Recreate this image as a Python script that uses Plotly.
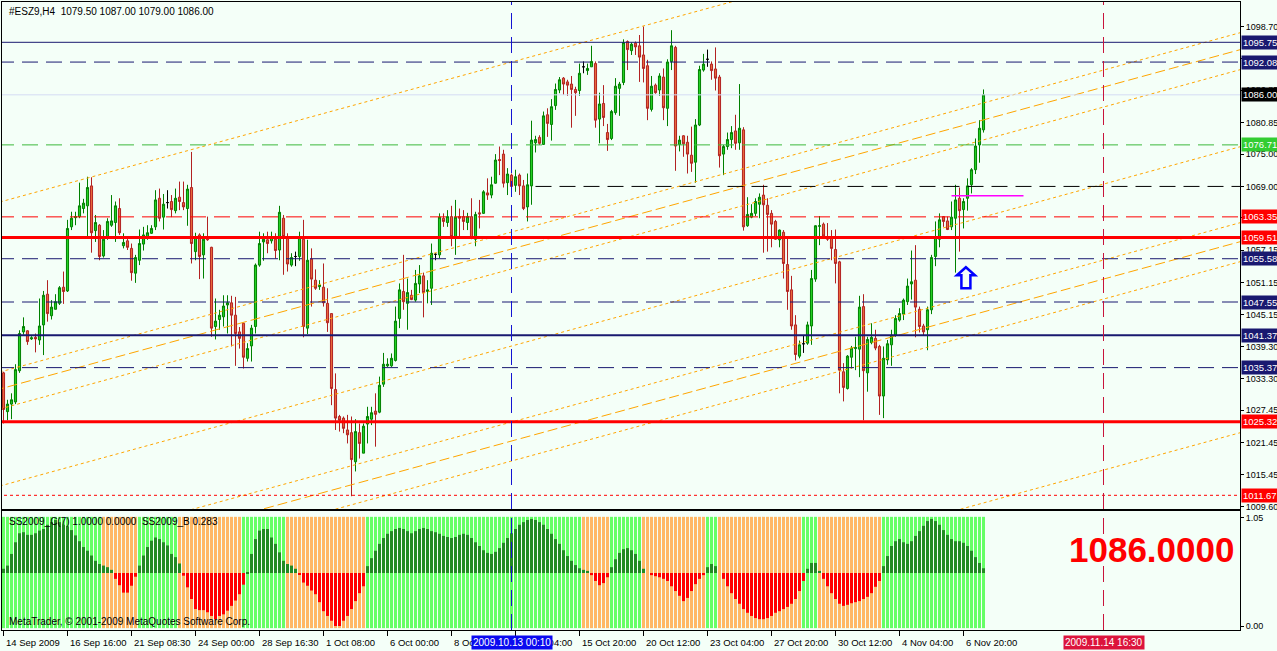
import plotly.graph_objects as go

# ---------------- data ----------------
header_text = "#ESZ9,H4\u00a0\u00a01079.50 1087.00 1079.00 1086.00"

opens = [1034.4,1027.2,1028.6,1029.0,1034.8,1042.0,1042.2,1040.7,1041.0,1040.5,
1043.3,1049.0,1045.0,1046.2,1047.3,1050.3,1049.6,1061.5,1063.2,1063.4,
1064.9,1065.4,1069.1,1060.8,1061.8,1056.1,1059.5,1061.8,1062.3,1064.9,
1058.0,1058.9,1057.5,1052.9,1055.3,1058.3,1059.5,1060.3,1061.5,1066.8,
1063.3,1066.0,1066.2,1064.5,1067.0,1066.0,1064.9,1068.8,1056.9,1060.0,
1056.3,1059.7,1057.7,1043.0,1044.3,1044.8,1047.0,1047.4,1045.1,1042.0,
1043.6,1037.1,1039.4,1043.0,1054.4,1058.7,1059.1,1058.9,1059.2,1057.2,
1063.1,1059.7,1054.4,1056.0,1056.0,1059.2,1042.7,1055.5,1051.6,1050.4,
1050.3,1047.3,1045.4,1031.3,1026.3,1026.0,1023.8,1023.3,1017.9,1023.3,
1019.5,1024.9,1025.8,1027.3,1027.1,1032.3,1035.7,1035.7,1036.7,1044.5,
1049.5,1047.3,1048.8,1047.9,1050.9,1052.4,1049.5,1050.1,1056.4,1056.3,
1063.1,1062.3,1063.4,1059.7,1063.4,1063.4,1062.3,1063.4,1059.2,1064.1,
1064.0,1067.8,1067.4,1069.6,1074.0,1075.0,1069.7,1071.1,1069.2,1071.1,
1069.1,1065.2,1069.1,1077.1,1078.1,1076.8,1082.3,1080.5,1084.0,1086.9,
1089.1,1088.4,1088.0,1087.0,1086.8,1091.2,1090.5,1091.2,1091.8,1081.5,
1084.4,1079.0,1077.9,1082.7,1087.2,1088.3,1095.9,1094.2,1095.6,1095.1,
1093.4,1091.4,1083.3,1087.8,1086.9,1089.3,1083.5,1092.2,1094.8,1076.8,
1078.4,1077.2,1074.8,1073.5,1080.4,1090.6,1092.6,1091.7,1090.8,1089.3,
1075.0,1076.4,1077.7,1079.3,1077.1,1079.5,1061.7,1063.3,1064.0,1065.7,
1067.4,1065.5,1064.0,1062.5,1059.1,1060.5,1054.5,1049.8,1043.3,1037.5,
1039.8,1039.9,1043.1,1051.8,1061.6,1062.0,1059.7,1059.7,1057.3,1055.0,
1034.6,1031.5,1037.3,1038.9,1038.8,1046.7,1034.4,1040.0,1040.8,1039.3,
1030.1,1036.8,1039.6,1041.4,1044.2,1045.3,1047.6,1050.9,1051.6,1046.2,
1043.1,1042.4,1046.1,1056.0,1059.2,1063.4,1062.6,1061.5,1063.1,1066.8,
1064.7,1066.8,1069.3,1072.1,1076.7,1079.5]

highs = [1034.6,1029.4,1030.6,1036.0,1042.3,1044.7,1042.3,1041.2,1041.7,1048.2,
1049.6,1051.6,1047.9,1049.0,1050.5,1053.2,1062.8,1064.3,1064.3,1069.7,
1066.7,1070.8,1070.7,1063.7,1062.0,1060.9,1063.1,1067.4,1066.2,1066.8,
1060.3,1059.4,1058.4,1056.3,1061.0,1061.5,1061.8,1061.8,1068.3,1068.6,
1067.6,1068.3,1067.4,1068.6,1069.9,1069.9,1069.3,1075.4,1060.4,1060.3,
1060.3,1063.4,1057.8,1048.2,1046.1,1048.8,1048.8,1048.7,1048.5,1042.9,
1043.7,1039.9,1043.3,1054.7,1060.6,1060.3,1060.6,1060.6,1060.3,1065.4,
1063.7,1060.3,1056.6,1056.9,1060.6,1062.8,1059.1,1057.5,1053.6,1051.6,
1054.7,1050.1,1045.4,1034.3,1026.6,1026.3,1026.6,1026.3,1025.8,1025.0,
1025.0,1028.1,1028.1,1030.6,1033.7,1038.1,1037.1,1038.0,1046.7,1051.0,
1056.3,1051.9,1049.8,1053.5,1054.4,1053.0,1051.6,1058.4,1056.6,1064.0,
1064.0,1064.6,1065.4,1066.5,1064.9,1064.6,1064.1,1066.8,1064.3,1066.5,
1068.3,1070.5,1070.8,1075.0,1076.4,1075.8,1072.4,1071.4,1072.1,1071.4,
1070.2,1071.4,1081.2,1078.4,1078.5,1082.9,1083.5,1085.2,1088.1,1089.3,
1089.3,1088.8,1089.5,1087.5,1091.8,1092.2,1091.8,1095.1,1092.2,1086.4,
1087.8,1080.6,1083.2,1089.1,1088.4,1096.3,1096.1,1095.7,1095.9,1097.1,
1098.7,1092.5,1089.5,1088.1,1090.0,1090.9,1092.6,1098.0,1095.1,1078.4,
1078.5,1078.4,1080.1,1081.5,1091.4,1093.6,1094.4,1092.2,1094.8,1089.7,
1076.7,1079.0,1080.2,1082.3,1088.0,1080.0,1067.0,1065.7,1066.8,1067.7,
1069.3,1066.8,1064.6,1062.8,1061.0,1060.9,1059.7,1052.4,1045.1,1040.4,
1041.4,1043.9,1053.5,1061.8,1063.5,1062.3,1062.2,1060.9,1061.0,1055.2,
1036.2,1037.7,1039.4,1041.1,1048.7,1049.0,1041.1,1043.6,1042.4,1039.6,
1039.3,1040.5,1042.4,1045.1,1046.4,1048.2,1051.9,1057.1,1058.1,1046.7,
1043.5,1046.7,1056.3,1062.5,1064.0,1063.5,1063.4,1066.2,1069.3,1068.8,
1066.8,1070.5,1072.4,1077.9,1081.3,1087.0]

lows = [1025.0,1025.6,1025.8,1028.6,1034.4,1041.5,1039.6,1040.5,1038.2,1039.6,
1037.7,1043.9,1044.3,1046.2,1047.0,1047.2,1049.4,1060.9,1061.8,1063.1,
1064.0,1059.7,1056.7,1058.7,1055.3,1055.8,1059.1,1061.5,1058.7,1060.0,
1057.5,1057.2,1051.5,1051.1,1054.4,1057.1,1059.1,1060.2,1060.9,1062.5,
1061.0,1064.9,1063.3,1064.0,1064.6,1064.6,1061.7,1054.7,1055.3,1051.8,
1051.9,1058.9,1041.1,1040.6,1042.4,1043.0,1041.7,1039.3,1035.7,1038.9,
1035.2,1036.5,1036.5,1041.7,1054.1,1055.2,1056.6,1058.4,1055.6,1055.3,
1052.6,1053.2,1054.1,1054.2,1055.2,1041.0,1041.6,1046.7,1049.8,1049.8,
1046.7,1042.0,1028.4,1023.8,1023.5,1023.2,1021.3,1011.5,1016.1,1018.5,
1019.5,1021.3,1024.7,1020.7,1026.9,1031.8,1035.5,1035.5,1036.5,1042.7,
1046.1,1042.4,1047.9,1047.6,1049.2,1044.7,1047.3,1047.0,1055.3,1055.7,
1061.5,1061.5,1057.9,1056.3,1059.7,1060.9,1060.9,1059.2,1057.9,1061.2,
1063.9,1066.5,1066.8,1069.5,1071.1,1068.8,1067.4,1067.4,1068.0,1067.4,
1064.6,1062.5,1065.6,1075.3,1076.7,1076.7,1078.2,1077.5,1083.2,1086.3,
1086.0,1085.8,1079.9,1082.1,1085.8,1090.0,1089.7,1091.2,1079.9,1077.0,
1080.2,1075.6,1077.6,1082.3,1082.1,1087.8,1090.6,1093.4,1093.4,1088.4,
1088.3,1081.3,1082.9,1086.2,1085.8,1081.3,1080.2,1090.6,1071.9,1075.5,
1074.5,1071.4,1071.7,1069.7,1080.2,1090.3,1091.2,1088.8,1086.8,1072.5,
1071.1,1075.8,1076.1,1075.8,1075.8,1060.8,1061.5,1063.1,1063.5,1063.1,
1056.7,1056.9,1057.7,1059.1,1057.7,1051.9,1046.1,1042.4,1036.7,1037.1,
1038.1,1039.6,1039.6,1051.3,1058.1,1059.4,1058.9,1055.3,1051.0,1030.6,
1029.1,1031.3,1035.2,1034.9,1033.6,1025.6,1030.9,1039.7,1038.6,1026.6,
1026.0,1035.9,1035.7,1041.1,1043.9,1044.2,1047.0,1048.0,1041.0,1041.9,
1041.4,1038.6,1045.3,1054.2,1057.7,1061.5,1060.9,1060.9,1053.0,1056.9,
1061.2,1064.5,1067.7,1071.3,1073.4,1079.0]

closes = [1027.6,1028.6,1029.4,1035.0,1041.7,1043.0,1040.2,1040.9,1040.7,1043.1,
1048.8,1045.4,1046.6,1047.6,1050.2,1049.5,1061.2,1063.1,1063.4,1065.4,
1065.9,1068.8,1060.4,1062.3,1056.0,1059.2,1062.5,1062.6,1065.4,1060.4,
1058.6,1057.7,1053.0,1055.8,1058.4,1060.0,1060.4,1061.2,1066.5,1063.1,
1065.7,1066.0,1064.7,1066.8,1066.2,1065.2,1068.5,1058.4,1059.7,1056.0,
1059.2,1059.1,1042.7,1044.0,1045.1,1046.8,1047.4,1045.1,1041.7,1040.8,
1037.3,1038.9,1042.7,1054.4,1058.4,1059.2,1058.4,1059.7,1057.1,1064.2,
1059.7,1054.6,1055.8,1056.0,1059.5,1043.0,1055.3,1051.8,1050.1,1050.7,
1047.4,1043.7,1031.5,1026.0,1025.6,1024.1,1022.9,1018.3,1023.5,1021.3,
1024.5,1026.3,1027.0,1026.7,1032.1,1036.0,1036.0,1037.1,1044.0,1049.8,
1047.6,1049.3,1048.0,1051.0,1052.4,1049.3,1049.8,1056.6,1056.4,1063.3,
1062.5,1063.4,1059.7,1063.3,1063.1,1062.5,1063.4,1059.4,1063.8,1063.9,
1068.0,1067.4,1069.3,1073.9,1073.8,1069.6,1071.3,1069.0,1070.8,1069.1,
1064.9,1069.3,1077.6,1077.7,1077.0,1082.1,1080.7,1083.8,1087.0,1088.8,
1088.0,1087.8,1087.0,1086.4,1090.0,1091.2,1090.9,1092.2,1081.3,1084.3,
1081.8,1077.7,1082.9,1087.6,1088.0,1095.7,1094.4,1095.4,1094.9,1093.0,
1090.9,1083.5,1087.6,1086.4,1089.5,1083.6,1092.1,1095.1,1076.5,1077.6,
1076.9,1075.0,1073.3,1080.4,1090.7,1091.7,1092.6,1090.5,1089.1,1074.7,
1076.4,1077.7,1079.0,1077.0,1079.8,1061.5,1063.8,1064.0,1066.2,1067.0,
1065.6,1063.8,1062.0,1059.2,1060.9,1054.7,1049.5,1043.1,1037.8,1039.6,
1039.8,1043.3,1051.9,1061.7,1061.7,1059.8,1059.2,1057.5,1054.7,1034.9,
1031.7,1037.5,1039.0,1039.1,1046.6,1034.8,1040.6,1041.0,1039.0,1030.1,
1037.1,1039.8,1041.4,1044.5,1045.4,1047.9,1050.5,1051.3,1046.6,1043.0,
1042.0,1046.1,1055.8,1059.6,1062.8,1062.5,1061.0,1063.3,1066.5,1064.5,
1066.2,1069.1,1072.1,1076.5,1079.8,1086.0]

doji_bars = [41, 73, 108, 145, 176, 200]

# oscillator histogram (SS2009_C) per bar
hist = [0.08,0.14,0.36,0.58,0.75,0.77,0.72,0.72,0.75,0.80,
0.83,0.91,0.96,1.00,0.96,0.91,0.88,0.81,0.71,0.60,
0.49,0.42,0.33,0.23,0.17,0.14,0.11,0.06,-0.11,-0.23,
-0.37,-0.37,-0.24,-0.07,0.14,0.33,0.49,0.61,0.67,0.64,
0.58,0.52,0.36,0.30,0.18,-0.05,-0.27,-0.49,-0.68,-0.70,
-0.70,-0.74,-0.81,-0.87,-0.81,-0.78,-0.71,-0.62,-0.52,-0.40,
-0.22,0.01,0.36,0.64,0.80,0.83,0.83,0.67,0.55,0.39,
0.23,0.17,0.14,0.08,-0.03,-0.18,-0.24,-0.33,-0.40,-0.55,
-0.72,-0.81,-0.90,-1.00,-1.00,-0.90,-0.81,-0.68,-0.53,-0.38,
-0.25,0.13,0.28,0.42,0.55,0.66,0.74,0.79,0.83,0.85,
0.83,0.79,0.75,0.79,0.83,0.85,0.83,0.79,0.77,0.74,
0.70,0.68,0.66,0.68,0.72,0.74,0.72,0.66,0.58,0.51,
0.43,0.38,0.36,0.40,0.47,0.57,0.66,0.75,0.83,0.91,
0.96,1.00,1.02,1.00,0.96,0.91,0.83,0.74,0.64,0.55,
0.43,0.32,0.23,0.15,0.09,0.06,0.04,-0.04,-0.15,-0.23,
-0.19,-0.08,0.11,0.26,0.38,0.45,0.47,0.43,0.36,0.23,
0.08,0.00,-0.04,-0.06,-0.08,-0.11,-0.15,-0.25,-0.34,-0.43,
-0.53,-0.47,-0.34,-0.21,-0.11,-0.04,0.11,0.17,0.13,0.00,
-0.11,-0.25,-0.38,-0.49,-0.58,-0.68,-0.75,-0.81,-0.85,-0.87,
-0.87,-0.85,-0.81,-0.75,-0.72,-0.68,-0.64,-0.58,-0.49,-0.34,
-0.15,0.08,0.19,0.19,0.04,-0.11,-0.25,-0.38,-0.49,-0.58,
-0.62,-0.60,-0.57,-0.55,-0.53,-0.49,-0.45,-0.38,-0.26,-0.15,
0.13,0.32,0.51,0.60,0.64,0.58,0.55,0.60,0.70,0.79,
0.89,0.98,1.02,0.98,0.91,0.81,0.72,0.64,0.60,0.60,
0.57,0.51,0.42,0.30,0.19,0.09]

# SS2009_B state runs (G = bullish band, O = bearish band), bar counts
state_runs = [("G", 25), ("O", 9), ("G", 10), ("O", 16), ("G", 11), ("O", 20),
              ("G", 54), ("O", 7), ("G", 8), ("O", 16), ("G", 3), ("O", 21),
              ("G", 4), ("O", 16), ("G", 26)]

time_tick_bars = [0, 16, 32, 48, 64, 80, 96, 112, 128, 144, 160, 176, 192, 208, 224, 240]
time_tick_labels = ["14 Sep 2009", "16 Sep 16:00", "21 Sep 08:30", "24 Sep 00:00",
                    "28 Sep 16:30", "1 Oct 08:00", "6 Oct 00:00", "8 Oct 16:00",
                    "13 Oct 04:00", "15 Oct 20:00", "20 Oct 12:00", "23 Oct 04:00",
                    "27 Oct 20:00", "30 Oct 12:00", "4 Nov 04:00", "6 Nov 20:00"]

price_ticks = [1098.70, 1092.70, 1086.85, 1080.85, 1075.00, 1069.00, 1063.15, 1057.15,
               1051.15, 1045.15, 1039.30, 1033.30, 1027.45, 1021.45, 1015.45, 1009.60]

# horizontal levels: price, colour, dash, width, first bar, label background (None = no label)
level_prices = [1095.75, 1092.08, 1086.00, 1076.71, 1069.00, 1063.35, 1059.51,
                1055.58, 1047.55, 1041.37, 1035.37, 1025.32, 1011.67]
level_colors = ["#191970", "#191970", "#D4DCF4", "#3CB83C", "#000000", "#FF0000", "#FF0000",
                "#191970", "#191970", "#191970", "#191970", "#FF0000", "#FF0000"]
level_dash = ["solid", "16px,8px", "solid", "16px,8px", "16px,8px", "16px,8px", "solid",
              "16px,8px", "16px,8px", "solid", "16px,8px", "solid", "3px,3px"]
level_width = [1, 1, 1, 1, 1, 1, 3, 1, 1, 2, 1, 3, 1]
level_start = [None, None, None, None, 133, None, None, None, None, None, None, None, None]
level_label_bg = ["#191970", "#191970", "#000000", "#32CD32", None, "#FF0000", "#FF0000",
                  "#191970", "#191970", "#191970", "#191970", "#FF0000", "#FF0000"]

# parallel channel rays: price at bar 0, common slope (points per bar)
channel_base = [1066.29, 1034.74, 1031.59, 1027.88, 1013.58, 999.48, 995.95, 992.24, 960.50]
channel_dash = ["3px,3px", "3px,3px", "10px,4px", "3px,3px", "3px,3px", "3px,3px",
                "10px,4px", "3px,3px", "3px,3px"]
channel_slope = 0.2031

marker_level_price = 1067.27
marker_level_bars = [237, 255]
arrow_bar = 240.6
arrow_tip_price = 1054.0

vline_bars = [127, 275]
vline_colors = ["#1414D2", "#C8143C"]
vline_labels = ["2009.10.13 00:10", "2009.11.14 16:30"]
vline_label_bg = ["#0A0AF0", "#DC143C"]

osc_title = "SS2009_C(7) 1.0000 0.0000\u00a0\u00a0SS2009_B 0.283"
copyright_text = "MetaTrader, \u00a9 2001-2009 MetaQuotes Software Corp."
big_price_text = "1086.0000"

# ---------------- layout geometry ----------------
W, H = 1277, 651
ML, MR, MT, MB = 2, 37, 2, 21
plot_w = W - ML - MR
plot_h = H - MT - MB
main_bottom_px = 509
osc_top_px = 511
main_dom = [(H - MB - main_bottom_px) / plot_h, 1.0]
osc_dom = [0.0, (H - MB - osc_top_px) / plot_h]
x_range = [-0.375, 309.125]
y_range = [1009.13, 1103.23]
osc_range = [-1.075, 1.17]

BG = "#F4FFF8"
FONT = "Liberation Sans, Arial, sans-serif"
FS = 9.5

n = len(opens)
idx = list(range(n))

fig = go.Figure()

# candles (normal)
norm = [i for i in idx if i not in doji_bars]
fig.add_trace(go.Candlestick(
    x=norm, open=[opens[i] for i in norm], high=[highs[i] for i in norm],
    low=[lows[i] for i in norm], close=[closes[i] for i in norm],
    increasing=dict(line=dict(color="#008000", width=1), fillcolor="#22D022"),
    decreasing=dict(line=dict(color="#B22222", width=1), fillcolor="#E8683A"),
    whiskerwidth=0, xaxis="x", yaxis="y", hoverinfo="skip", showlegend=False))
# doji candles (black)
fig.add_trace(go.Candlestick(
    x=doji_bars, open=[opens[i] for i in doji_bars], high=[highs[i] for i in doji_bars],
    low=[lows[i] for i in doji_bars], close=[closes[i] for i in doji_bars],
    increasing=dict(line=dict(color="#000000", width=1), fillcolor="#000000"),
    decreasing=dict(line=dict(color="#000000", width=1), fillcolor="#000000"),
    whiskerwidth=0, xaxis="x", yaxis="y", hoverinfo="skip", showlegend=False))

# channel rays
xa, xb = x_range[0] - 2, x_range[1] + 2
for base, dsh in zip(channel_base, channel_dash):
    fig.add_trace(go.Scatter(
        x=[xa, xb], y=[base + channel_slope * xa, base + channel_slope * xb],
        mode="lines", line=dict(color="#FFA500", width=1, dash=dsh),
        xaxis="x", yaxis="y", hoverinfo="skip", showlegend=False))

# oscillator background bands + histogram
state_seq = []
for s, cnt in state_runs:
    state_seq += [s] * cnt
band_colors = ["#66FF66" if s == "G" else "#FFB865" for s in state_seq]
band_lo, band_hi = -1.04, 1.06
fig.add_trace(go.Bar(x=idx, y=[band_hi - band_lo] * n, base=band_lo, width=0.75,
                     marker=dict(color=band_colors, line=dict(width=0)),
                     xaxis="x2", yaxis="y2", hoverinfo="skip", showlegend=False))
fig.add_trace(go.Bar(x=idx, y=hist, width=0.75,
                     marker=dict(color=["#228B22" if v >= 0 else "#FF0000" for v in hist],
                                 line=dict(width=0)),
                     xaxis="x2", yaxis="y2", hoverinfo="skip", showlegend=False))

shapes = []
annotations = []

# horizontal levels
for p, c, d, w, st in zip(level_prices, level_colors, level_dash, level_width, level_start):
    shapes.append(dict(type="line", xref="x", yref="y",
                       x0=(st if st is not None else x_range[0] - 1), x1=x_range[1] + 1,
                       y0=p, y1=p, line=dict(color=c, width=w, dash=d), layer="above"))

# magenta marker segment
shapes.append(dict(type="line", xref="x", yref="y", x0=marker_level_bars[0], x1=marker_level_bars[1],
                   y0=marker_level_price, y1=marker_level_price,
                   line=dict(color="#FF00FF", width=1.6), layer="above"))

# vertical lines in both panes
for b, c in zip(vline_bars, vline_colors):
    for yr in ["y domain", "y2 domain"]:
        shapes.append(dict(type="line", xref="x", yref=yr, x0=b, x1=b, y0=0, y1=1,
                           line=dict(color=c, width=1, dash="16px,8px"), layer="above"))

# hollow up-arrow (sizes in pixels converted to data units)
bar_px = plot_w / (x_range[1] - x_range[0])
price_px = (plot_h * (main_dom[1] - main_dom[0])) / (y_range[1] - y_range[0])
hw, sw = 9 / bar_px, 4.5 / bar_px
hh, tot = 8 / price_px, 21 / price_px
ax, ay = arrow_bar, arrow_tip_price
path = (f"M {ax} {ay} L {ax + hw} {ay - hh} L {ax + sw} {ay - hh} L {ax + sw} {ay - tot} "
        f"L {ax - sw} {ay - tot} L {ax - sw} {ay - hh} L {ax - hw} {ay - hh} Z")
shapes.append(dict(type="path", xref="x", yref="y", path=path,
                   line=dict(color="#0000FF", width=2.5), fillcolor="rgba(0,0,0,0)", layer="above"))

# right-side level labels
for p, bg in zip(level_prices, level_label_bg):
    if bg is None:
        continue
    annotations.append(dict(xref="paper", yref="y", x=1, y=p, xanchor="left", yanchor="middle",
                            xshift=1, text=f"{p:.2f}", showarrow=False,
                            font=dict(family=FONT, size=9.5, color="#FFFFFF"),
                            bgcolor=bg, borderpad=1))

# header
annotations.append(dict(xref="paper", yref="paper", x=0, y=1, xanchor="left", yanchor="top",
                        xshift=5, yshift=-2, text=header_text, showarrow=False,
                        font=dict(family=FONT, size=FS + 0.5, color="#000000")))

# time axis labels
for b, t in zip(time_tick_bars, time_tick_labels):
    annotations.append(dict(xref="x2", yref="paper", x=b, y=0, xanchor="left", yanchor="top",
                            xshift=0, yshift=-5, text=t, showarrow=False,
                            font=dict(family=FONT, size=FS, color="#000000")))
for b, t, bg in zip(vline_bars, vline_labels, vline_label_bg):
    annotations.append(dict(xref="x2", yref="paper", x=b, y=0, xanchor="center", yanchor="top",
                            yshift=-5, text=t, showarrow=False, bgcolor=bg, borderpad=1,
                            font=dict(family=FONT, size=FS + 0.5, color="#FFFFFF")))

# oscillator texts
annotations.append(dict(xref="paper", yref="y2", x=0, y=0.97, xanchor="left", yanchor="middle",
                        xshift=5, text=osc_title, showarrow=False,
                        font=dict(family=FONT, size=FS + 0.5, color="#000000")))
annotations.append(dict(xref="paper", yref="y2", x=0, y=-0.92, xanchor="left", yanchor="middle",
                        xshift=5, text=copyright_text, showarrow=False,
                        font=dict(family=FONT, size=FS + 0.5, color="#000000")))
annotations.append(dict(xref="x2", yref="y2", x=287, y=0.44, xanchor="center", yanchor="middle",
                        text=f"<b>{big_price_text}</b>", showarrow=False,
                        font=dict(family="Liberation Sans, Arial, sans-serif", size=35, color="#FF0000")))

axis_common = dict(showgrid=False, zeroline=False, showline=True, linecolor="#000000",
                   linewidth=1, mirror=True)

fig.update_layout(
    width=W, height=H, margin=dict(l=ML, r=MR, t=MT, b=MB, autoexpand=False),
    paper_bgcolor=BG, plot_bgcolor=BG, showlegend=False,
    barmode="overlay", boxgap=0.25,
    font=dict(family=FONT, size=FS, color="#000000"),
    xaxis=dict(range=x_range, domain=[0, 1], anchor="y", showticklabels=False, ticks="",
               rangeslider=dict(visible=False), **axis_common),
    yaxis=dict(range=y_range, domain=main_dom, anchor="x", side="right",
               tickvals=price_ticks, ticktext=[f"{v:.2f}" for v in price_ticks],
               ticks="outside", ticklen=3, tickcolor="#000000",
               tickfont=dict(family=FONT, size=9, color="#000000"), **axis_common),
    xaxis2=dict(range=x_range, domain=[0, 1], anchor="y2", matches="x",
                tickvals=time_tick_bars, showticklabels=False, ticks="outside", ticklen=5,
                tickcolor="#000000", **axis_common),
    yaxis2=dict(range=osc_range, domain=osc_dom, anchor="x2", side="right",
                tickvals=[1.05, -1.0], ticktext=["1.05", "0.00"],
                ticks="outside", ticklen=3, tickcolor="#000000",
                tickfont=dict(family=FONT, size=9, color="#000000"), **axis_common),
    shapes=shapes, annotations=annotations,
)

fig.write_html("out.html", config={"displayModeBar": False},
               post_script="document.body.style.margin='0px';document.body.style.overflow='hidden';")
